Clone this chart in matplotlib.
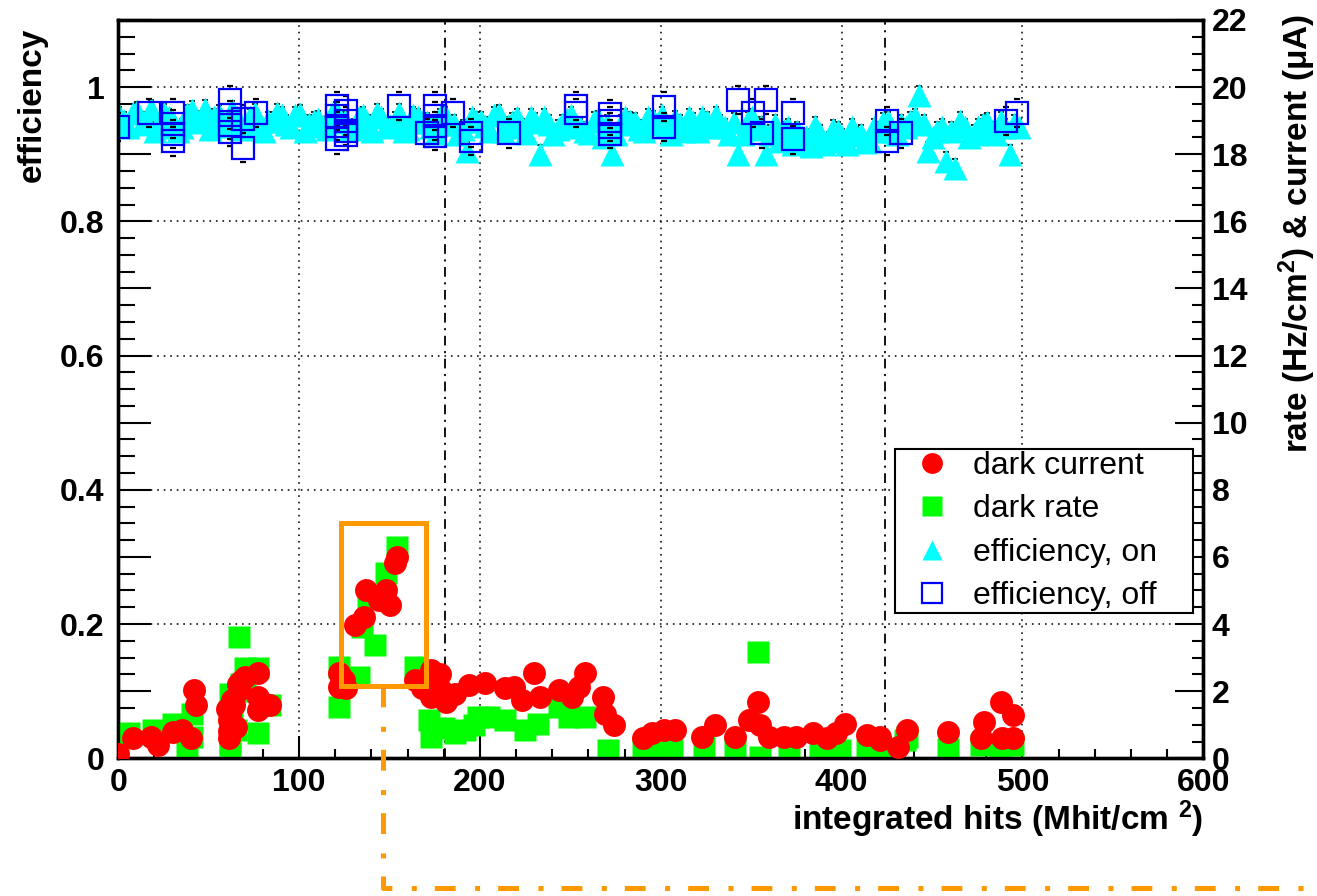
import matplotlib
matplotlib.use("Agg")
import matplotlib.pyplot as plt
from matplotlib.ticker import MultipleLocator, FuncFormatter
from matplotlib.lines import Line2D
from matplotlib.patches import Rectangle

plt.rcParams['font.family'] = ['Liberation Sans', 'DejaVu Sans']
plt.rcParams['font.weight'] = 'bold'
plt.rcParams['mathtext.fontset'] = 'custom'
plt.rcParams['mathtext.rm'] = 'Liberation Sans'
plt.rcParams['mathtext.default'] = 'regular'
plt.rcParams['lines.scale_dashes'] = False

# efficiency, on (cyan triangles) - two interleaved runs
eff_on_x = [3, 8, 13, 18, 23, 28, 33, 38, 43, 48, 53, 58, 63, 68, 73, 78, 83, 88, 93, 98,
            103, 108, 113, 118, 123, 128, 133, 138, 143, 148, 153, 158, 163, 168, 173, 178, 183, 188, 193, 198,
            203, 208, 213, 218, 223, 228, 233, 238, 243, 248, 253, 258, 263, 268, 273, 278, 283, 288, 293, 298,
            303, 308, 313, 318, 323, 328, 333, 338, 343, 348, 353, 358, 363, 368, 373, 378, 383, 388, 393, 398,
            403, 408, 413, 418, 423, 428, 433, 438, 443, 448, 453, 458, 463, 468, 473, 478, 483, 488, 493, 498]
eff_on = [0.950, 0.962, 0.945, 0.968, 0.940, 0.955, 0.935, 0.960, 0.948, 0.968,
          0.955, 0.942, 0.966, 0.938, 0.955, 0.940, 0.950, 0.962, 0.945, 0.958,
          0.935, 0.950, 0.942, 0.960, 0.948, 0.938, 0.955, 0.945, 0.962, 0.940,
          0.950, 0.935, 0.958, 0.948, 0.940, 0.955, 0.945, 0.930, 0.905, 0.950,
          0.942, 0.958, 0.935, 0.948, 0.940, 0.955, 0.900, 0.945, 0.938, 0.952,
          0.942, 0.935, 0.950, 0.925, 0.900, 0.945, 0.950, 0.938, 0.955, 0.945,
          0.940, 0.952, 0.935, 0.948, 0.955, 0.940, 0.945, 0.930, 0.900, 0.950,
          0.938, 0.900, 0.945, 0.935, 0.915, 0.925, 0.912, 0.930, 0.920, 0.935,
          0.915, 0.928, 0.918, 0.940, 0.948, 0.935, 0.945, 0.950, 0.988, 0.905,
          0.935, 0.890, 0.880, 0.940, 0.930, 0.945, 0.935, 0.950, 0.900, 0.940]
eff_on2_x = [0.5, 5.5, 10.5, 15.5, 20.5, 25.5, 30.5, 35.5, 40.5, 45.5, 50.5, 55.5, 60.5, 65.5, 70.5,
             75.5, 80.5, 85.5, 90.5, 95.5, 100.5, 105.5, 110.5, 115.5, 120.5, 125.5, 130.5, 135.5, 140.5,
             145.5, 150.5, 155.5, 160.5, 165.5, 170.5, 175.5, 180.5, 185.5, 190.5, 195.5, 200.5, 205.5,
             210.5, 215.5, 220.5, 225.5, 230.5, 235.5, 240.5, 245.5, 250.5, 255.5, 260.5, 265.5, 270.5,
             275.5, 280.5, 285.5, 290.5, 295.5, 300.5, 305.5, 310.5, 315.5, 320.5, 325.5, 330.5, 335.5,
             340.5, 345.5, 350.5, 355.5, 360.5, 365.5, 370.5, 375.5, 380.5, 385.5, 390.5, 395.5, 400.5,
             405.5, 410.5, 415.5, 420.5, 425.5, 430.5, 435.5, 440.5, 445.5, 450.5, 455.5, 460.5, 465.5,
             470.5, 475.5, 480.5, 485.5, 490.5, 495.5]
eff_on2 = [0.958, 0.940, 0.965, 0.950, 0.935, 0.962, 0.948, 0.940, 0.966, 0.952,
           0.938, 0.960, 0.945, 0.955, 0.940, 0.962, 0.935, 0.950, 0.958, 0.940,
           0.960, 0.945, 0.952, 0.938, 0.965, 0.950, 0.940, 0.958, 0.935, 0.955,
           0.942, 0.962, 0.938, 0.955, 0.948, 0.932, 0.958, 0.945, 0.938, 0.955,
           0.950, 0.935, 0.960, 0.942, 0.955, 0.932, 0.948, 0.955, 0.930, 0.945,
           0.958, 0.940, 0.932, 0.952, 0.945, 0.930, 0.955, 0.948, 0.935, 0.952,
           0.958, 0.930, 0.945, 0.955, 0.935, 0.950, 0.958, 0.940, 0.948, 0.930,
           0.955, 0.942, 0.930, 0.920, 0.940, 0.935, 0.925, 0.942, 0.915, 0.938,
           0.925, 0.940, 0.930, 0.920, 0.935, 0.950, 0.930, 0.940, 0.955, 0.945,
           0.925, 0.940, 0.935, 0.950, 0.925, 0.940, 0.948, 0.930, 0.940, 0.945]

# efficiency, off (open blue squares)
eff_off_x = [0, 17, 30, 30, 30, 30, 62, 62, 62, 62, 69, 69, 76,
             121, 121, 121, 121, 126, 126, 126, 126, 155, 171, 175, 175, 175, 175, 185, 195, 195, 216,
             253, 253, 272, 272, 272, 272, 302, 302, 343, 351, 358, 356, 373, 373, 425, 425, 433, 491, 497]
eff_off = [0.940, 0.962, 0.961, 0.945, 0.930, 0.919, 0.981, 0.958, 0.943, 0.933, 0.953, 0.910, 0.962,
           0.972, 0.957, 0.942, 0.922, 0.965, 0.950, 0.935, 0.928, 0.972, 0.932, 0.972, 0.957, 0.942, 0.927,
           0.962, 0.932, 0.920, 0.931,
           0.972, 0.962, 0.960, 0.950, 0.940, 0.930, 0.971, 0.940, 0.981, 0.962, 0.981, 0.931, 0.962, 0.922,
           0.950, 0.920, 0.931, 0.950, 0.962]

# dark current (uA) and dark rate (Hz/cm2), right axis
cur_x = [0, 8, 18, 22, 30, 35, 40, 42, 43, 60, 61, 61, 61, 62, 63, 64, 65, 66, 67, 68, 70, 77, 77, 77, 84,
         122, 122, 124, 125, 126, 131, 136, 137, 144, 148, 150, 153, 154, 164, 168, 173, 173, 173, 178, 179,
         181, 186, 194, 203,
         214, 219, 223, 230, 233, 244, 251, 255, 258, 268, 269, 274, 290, 295, 302, 308, 323, 330, 341,
         349, 354, 355, 360, 368, 375, 384, 392, 397, 402, 414, 421, 421, 431, 436, 459, 477, 479, 488, 489, 495, 495]
cur_val = [0.14, 0.59, 0.64, 0.39, 0.79, 0.84, 0.59, 2.03, 1.58, 1.48, 1.13, 0.59, 0.80, 1.30, 1.73, 1.60,
           0.93, 2.20, 2.03, 2.30, 2.43, 2.53, 1.83, 1.43, 1.58,
           2.53, 2.13, 2.40, 2.33, 2.10, 3.97, 4.22, 5.01, 4.72, 5.01, 4.57, 5.81, 6.01, 2.33, 2.10, 2.63, 2.23, 1.83,
           2.50, 2.00, 1.68, 1.93, 2.18, 2.23,
           2.08, 2.13, 1.73, 2.53, 1.83, 2.03, 1.83, 2.13, 2.53, 1.83, 1.33, 0.99, 0.59, 0.74, 0.84, 0.84, 0.64, 0.99, 0.64,
           1.13, 1.68, 0.99, 0.64, 0.64, 0.64, 0.74, 0.59, 0.74, 1.03, 0.69, 0.64, 0.54, 0.34, 0.84, 0.79, 0.59, 1.08, 1.68,
           0.59, 1.28, 0.59]

rate_x = [0, 6, 19, 30, 38, 41, 41, 62, 62, 62, 63, 65, 67, 68, 70, 70, 77, 77, 84,
          122, 122, 133, 135, 138, 142, 148, 154, 164, 172, 173, 180, 186, 192, 197, 199, 205, 214, 225, 232,
          244, 249, 258, 271, 290, 302, 306, 324, 341, 354, 355, 371, 388, 399, 414, 421, 425, 429, 435, 436,
          459, 477, 488, 495]
rate_val = [0.24, 0.74, 0.84, 1.03, 0.24, 1.33, 0.64, 0.14, 1.93, 0.50, 1.20, 0.84, 3.62, 2.20, 2.68, 2.00,
            2.68, 0.74, 1.58,
            2.73, 1.53, 2.43, 3.92, 4.82, 3.37, 5.51, 6.31, 2.73, 1.13, 0.64, 0.90, 0.74, 0.84, 1.00, 1.23, 1.23,
            1.13, 0.84, 1.03, 1.53, 1.23, 1.23,
            0.24, 0.34, 0.24, 0.24, 0.34, 0.24, 3.17, 0.04, 0.14, 0.24, 0.24, 0.24, 0.24, 0.09, 0.10, 0.54, 0.64,
            0.29, 0.39, 0.19, 0.39]

# vertical markers and highlighted region
mark_x = [180.5, 424]
box_x = (123, 170)
box_rate = (2.15, 7.0)

ORANGE = '#ff9900'

fig = plt.figure(figsize=(13.17, 8.96), dpi=100)
ax = fig.add_axes([0.0898, 0.1537, 0.8238, 0.824])
ax2 = ax.twinx()

ax.set_xlim(0, 600)
ax.set_ylim(0, 1.1)
ax2.set_ylim(0, 22)

# grid (dotted) and dash-dot markers
for v in [0.2, 0.4, 0.6, 0.8, 1.0]:
    ax.axhline(v, color='k', lw=1.1, dashes=(1.2, 3.5), zorder=0)
for v in [100, 200, 300, 400, 500]:
    ax.axvline(v, color='k', lw=1.1, dashes=(1.2, 3.5), zorder=0)
for v in mark_x:
    ax.axvline(v, color='k', lw=1.3, dashes=(7, 4, 1.5, 4), zorder=0.5)

for xs, ys in [(eff_on_x, eff_on), (eff_on2_x, eff_on2)]:
    ax.errorbar(xs, ys, yerr=0.013, fmt='none', ecolor='k', elinewidth=0.8,
                capsize=2, capthick=1.2, zorder=1.5)
    ax.plot(xs, ys, '^', color='#00ffff', ms=17.5, mec='none', zorder=2)
ax.errorbar(eff_off_x, eff_off, yerr=0.021, fmt='s', mfc='none', mec='#0000ff', mew=1.6, ms=16,
            ecolor='k', elinewidth=0, capsize=2.5, capthick=1.2, zorder=3)

ax2.plot(rate_x, rate_val, 's', color='#00ff00', ms=15.5, mec='none', zorder=2)
ax2.plot(cur_x, cur_val, 'o', color='#ff0000', ms=16.5, mec='none', zorder=3)

ax2.add_patch(Rectangle((box_x[0], box_rate[0]), box_x[1] - box_x[0], box_rate[1] - box_rate[0],
                        fill=False, ec=ORANGE, lw=3.6, zorder=5))
mid = (box_x[0] + box_x[1]) / 2
ax2.plot([mid, mid, 670], [box_rate[0], -3.88, -3.88], color=ORANGE, lw=3.6,
         dashes=(15, 14, 3.6, 13), clip_on=False, zorder=5)

# ticks
ax.xaxis.set_major_locator(MultipleLocator(100))
ax.xaxis.set_minor_locator(MultipleLocator(20))
ax.yaxis.set_major_locator(MultipleLocator(0.1))
ax.yaxis.set_minor_locator(MultipleLocator(0.025))
ax.yaxis.set_major_formatter(FuncFormatter(
    lambda v, p: f'{round(v, 1):g}' if round(v * 10) % 2 == 0 else ''))
ax2.yaxis.set_major_locator(MultipleLocator(2))
ax2.yaxis.set_minor_locator(MultipleLocator(0.5))

ax.tick_params(axis='x', which='major', direction='in', length=16, width=1.5, top=False, labelsize=23, pad=7)
ax.tick_params(axis='x', which='minor', direction='in', length=6.5, width=1.5, top=False)
ax.tick_params(axis='y', which='major', direction='in', length=24, width=1.5, right=False, labelsize=23, pad=10)
ax.tick_params(axis='y', which='minor', direction='in', length=12, width=1.5, right=False)
ax2.tick_params(axis='y', which='major', direction='in', length=20, width=1.5, labelsize=23, pad=6)
ax2.tick_params(axis='y', which='minor', direction='in', length=8, width=1.5)

for a in (ax, ax2):
    for s in a.spines.values():
        s.set_linewidth(2.4)

ax.set_xlabel('integrated hits (Mhit/cm $^{2}$)', fontsize=24, fontweight='bold', loc='right')
ax.xaxis.set_label_coords(1.0, -0.055)
ax.set_ylabel('efficiency', fontsize=24, fontweight='bold', loc='top')
ax.yaxis.set_label_coords(-0.065, 0.99)
ax2.set_ylabel('rate (Hz/cm$^{2}$) & current (μA)', fontsize=24, fontweight='bold', loc='top')
ax2.yaxis.set_label_coords(1.068, 1.008)

handles = [
    Line2D([], [], ls='none', marker='o', color='#ff0000', ms=15, mec='none'),
    Line2D([], [], ls='none', marker='s', color='#00ff00', ms=14, mec='none'),
    Line2D([], [], ls='none', marker='^', color='#00ffff', ms=15, mec='none'),
    Line2D([], [], ls='none', marker='s', mfc='none', mec='#0000ff', mew=1.6, ms=15),
]
labels = ['dark current', 'dark rate', 'efficiency, on', 'efficiency, off']
leg = ax2.legend(handles, labels, loc='lower left', bbox_to_anchor=(0.716, 0.197, 0.2747, 0.2),
                 mode='expand', borderaxespad=0, prop={'size': 23, 'weight': 'normal'},
                 borderpad=0.05, handlelength=2.2, handletextpad=0.2, labelspacing=0.42,
                 fancybox=False, framealpha=1, edgecolor='k')
leg.get_frame().set_linewidth(1.5)
leg.set_zorder(10)

fig.savefig('out.png', dpi=100)
